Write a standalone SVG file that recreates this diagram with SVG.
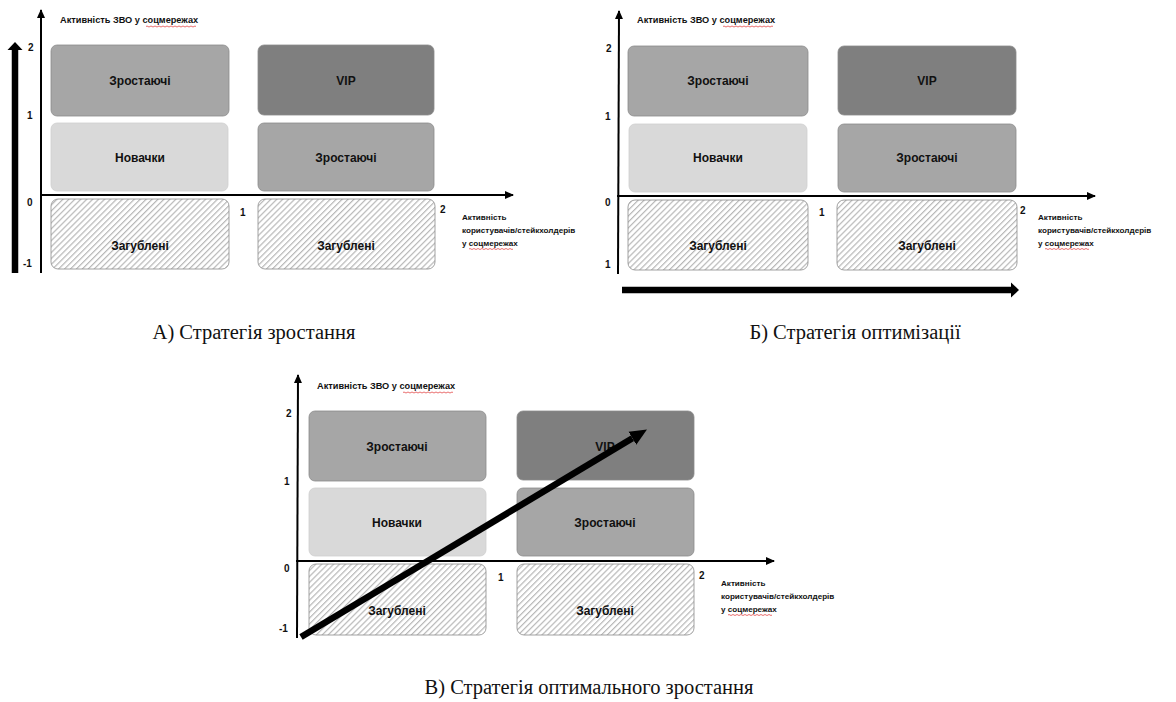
<svg xmlns="http://www.w3.org/2000/svg" width="1176" height="702" viewBox="0 0 1176 702">
<defs>
<style>
.bg{fill:#ffffff}
.box{stroke:#8c8c8c;stroke-width:0.8}
.grow{fill:#a6a6a6}
.vip{fill:#7f7f7f}
.new{fill:#d9d9d9;stroke:#cfcfcf}
.lost{fill:url(#hatch);stroke:#8c8c8c}
.lbl{font-family:"Liberation Sans",Arial,sans-serif;font-weight:bold;font-size:12px;fill:#111;text-anchor:middle}
.ttl{font-family:"Liberation Sans",Arial,sans-serif;font-weight:bold;font-size:9.2px;fill:#111}
.xl{font-family:"Liberation Sans",Arial,sans-serif;font-weight:bold;font-size:8.1px;fill:#111}
.num{font-family:"Liberation Sans",Arial,sans-serif;font-weight:bold;font-size:10px;fill:#111}
.cap{font-family:"Liberation Serif","Times New Roman",serif;font-size:20.5px;fill:#111;text-anchor:middle}
.axis{stroke:#000;stroke-width:2;fill:none}
.thick{stroke:#000;stroke-width:6.5;fill:none}
.squig{stroke:#e03030;stroke-width:0.7;fill:none}
</style>
<pattern id="hatch" patternUnits="userSpaceOnUse" width="4.2" height="4.2" patternTransform="rotate(45)">
<rect width="4.2" height="4.2" fill="#ffffff"/>
<line x1="0.6" y1="0" x2="0.6" y2="4.2" stroke="#b8b8b8" stroke-width="1.2"/>
</pattern>
<marker id="axhead" markerWidth="10" markerHeight="10" refX="8" refY="5" orient="auto" markerUnits="userSpaceOnUse">
<path d="M0,1 L9,5 L0,9 Z" fill="#000"/>
</marker>
<marker id="shorthead" markerWidth="12" markerHeight="18" refX="0" refY="8" orient="auto" markerUnits="userSpaceOnUse">
<path d="M0,0.5 L8,8 L0,15.5 Z" fill="#000"/>
</marker>
<marker id="longhead" markerWidth="20" markerHeight="18" refX="0" refY="8" orient="auto" markerUnits="userSpaceOnUse">
<path d="M0,0.5 L17,8 L0,15.5 Z" fill="#000"/>
</marker>
</defs>
<rect class="bg" x="0" y="0" width="1176" height="702"/>

<!-- Panel A -->
<g id="panelA">
  <g id="A-labels">
    <text class="ttl" x="60" y="23">Активність ЗВО у соцмережах</text>
    <path class="squig" d="M146,26.5 q1,-1 2,0 t2,0 t2,0 t2,0 t2,0 t2,0 t2,0 t2,0 t2,0 t2,0 t2,0 t2,0 t2,0 t2,0 t2,0 t2,0 t2,0 t2,0 t2,0 t2,0 t2,0 t2,0 t2,0 t2,0 t2,0"/>
    <text class="num" x="28" y="51">2</text>
    <text class="num" x="27" y="119">1</text>
    <text class="num" x="27" y="206">0</text>
    <text class="num" x="23" y="267">-1</text>
    <text class="num" x="240" y="216">1</text>
    <text class="num" x="440" y="213">2</text>
    <text class="xl" x="462" y="220">Активність</text>
    <text class="xl" x="462" y="233">користувачів/стейкхолдерів</text>
    <text class="xl" x="462" y="246">у соцмережах</text>
    <path class="squig" d="M469,249 q1,-1 2,0 t2,0 t2,0 t2,0 t2,0 t2,0 t2,0 t2,0 t2,0 t2,0 t2,0 t2,0 t2,0 t2,0 t2,0 t2,0 t2,0 t2,0 t2,0 t2,0 t2,0 t2,0"/>
  </g>
  <g id="A-grow1"><rect class="box grow" x="51" y="45" width="178" height="71" rx="6"/><text class="lbl" x="140" y="84.5">Зростаючі</text></g>
  <g id="A-vip"><rect class="box vip" x="258" y="45" width="176" height="70" rx="6"/><text class="lbl" x="346" y="84.5">VIP</text></g>
  <g id="A-new"><rect class="box new" x="51" y="123" width="177" height="68" rx="6"/><text class="lbl" x="140" y="161.5">Новачки</text></g>
  <g id="A-grow2"><rect class="box grow" x="258" y="123" width="176" height="68" rx="6"/><text class="lbl" x="346" y="161.5">Зростаючі</text></g>
  <g id="A-lost1"><rect class="box lost" x="51" y="199" width="178" height="70" rx="7"/><text class="lbl" x="140" y="249.5">Загублені</text></g>
  <g id="A-lost2"><rect class="box lost" x="258" y="199" width="177" height="70" rx="7"/><text class="lbl" x="346" y="249.5">Загублені</text></g>
  <text class="cap" x="254" y="339">А) Стратегія зростання</text>
</g>

<!-- Panel B -->
<g id="panelB">
  <g id="B-labels">
    <text class="ttl" x="637" y="23">Активність ЗВО у соцмережах</text>
    <path class="squig" d="M723,26.5 q1,-1 2,0 t2,0 t2,0 t2,0 t2,0 t2,0 t2,0 t2,0 t2,0 t2,0 t2,0 t2,0 t2,0 t2,0 t2,0 t2,0 t2,0 t2,0 t2,0 t2,0 t2,0 t2,0 t2,0 t2,0 t2,0"/>
    <text class="num" x="606" y="52">2</text>
    <text class="num" x="605" y="120">1</text>
    <text class="num" x="605" y="206">0</text>
    <text class="num" x="605" y="268">1</text>
    <text class="num" x="819" y="216">1</text>
    <text class="num" x="1020" y="214">2</text>
    <text class="xl" x="1038" y="220">Активність</text>
    <text class="xl" x="1038" y="233">користувачів/стейкхолдерів</text>
    <text class="xl" x="1038" y="246">у соцмережах</text>
    <path class="squig" d="M1045,249 q1,-1 2,0 t2,0 t2,0 t2,0 t2,0 t2,0 t2,0 t2,0 t2,0 t2,0 t2,0 t2,0 t2,0 t2,0 t2,0 t2,0 t2,0 t2,0 t2,0 t2,0 t2,0 t2,0"/>
  </g>
  <g id="B-grow1"><rect class="box grow" x="628" y="46" width="180" height="70" rx="6"/><text class="lbl" x="718" y="85">Зростаючі</text></g>
  <g id="B-vip"><rect class="box vip" x="838" y="46" width="178" height="69" rx="6"/><text class="lbl" x="927" y="85">VIP</text></g>
  <g id="B-new"><rect class="box new" x="629" y="124" width="178" height="68" rx="6"/><text class="lbl" x="718" y="162">Новачки</text></g>
  <g id="B-grow2"><rect class="box grow" x="838" y="124" width="178" height="68" rx="6"/><text class="lbl" x="927" y="162">Зростаючі</text></g>
  <g id="B-lost1"><rect class="box lost" x="628" y="200" width="180" height="70" rx="7"/><text class="lbl" x="718" y="250">Загублені</text></g>
  <g id="B-lost2"><rect class="box lost" x="837" y="200" width="180" height="70" rx="7"/><text class="lbl" x="927" y="250">Загублені</text></g>
  <text class="cap" x="855" y="339">Б) Стратегія оптимізації</text>
</g>

<!-- Panel C -->
<g id="panelC">
  <g id="C-labels">
    <text class="ttl" x="317" y="389">Активність ЗВО у соцмережах</text>
    <path class="squig" d="M403,392.5 q1,-1 2,0 t2,0 t2,0 t2,0 t2,0 t2,0 t2,0 t2,0 t2,0 t2,0 t2,0 t2,0 t2,0 t2,0 t2,0 t2,0 t2,0 t2,0 t2,0 t2,0 t2,0 t2,0 t2,0 t2,0 t2,0"/>
    <text class="num" x="286" y="417">2</text>
    <text class="num" x="284" y="485">1</text>
    <text class="num" x="284" y="572">0</text>
    <text class="num" x="279" y="632">-1</text>
    <text class="num" x="498" y="581">1</text>
    <text class="num" x="699" y="579">2</text>
    <text class="xl" x="721" y="586">Активність</text>
    <text class="xl" x="721" y="599">користувачів/стейкхолдерів</text>
    <text class="xl" x="721" y="612">у соцмережах</text>
    <path class="squig" d="M728,615 q1,-1 2,0 t2,0 t2,0 t2,0 t2,0 t2,0 t2,0 t2,0 t2,0 t2,0 t2,0 t2,0 t2,0 t2,0 t2,0 t2,0 t2,0 t2,0 t2,0 t2,0 t2,0 t2,0"/>
  </g>
  <g id="C-grow1"><rect class="box grow" x="309" y="411" width="177" height="70" rx="6"/><text class="lbl" x="397" y="450.5">Зростаючі</text></g>
  <g id="C-vip"><rect class="box vip" x="517" y="411" width="177" height="69" rx="6"/><text class="lbl" x="605" y="450.5">VIP</text></g>
  <g id="C-new"><rect class="box new" x="309" y="488" width="177" height="68" rx="6"/><text class="lbl" x="397" y="527">Новачки</text></g>
  <g id="C-grow2"><rect class="box grow" x="517" y="488" width="177" height="68" rx="6"/><text class="lbl" x="605" y="527">Зростаючі</text></g>
  <g id="C-lost1"><rect class="box lost" x="309" y="564" width="177" height="71" rx="7"/><text class="lbl" x="397" y="614.5">Загублені</text></g>
  <g id="C-lost2"><rect class="box lost" x="517" y="564" width="177" height="71" rx="7"/><text class="lbl" x="605" y="614.5">Загублені</text></g>
  <text class="cap" x="589" y="694">В) Стратегія оптимального зростання</text>
</g>

<!-- Connectors: axes and strategy arrows -->
<g id="connectors">
  <line class="axis" x1="41" y1="273" x2="41" y2="10" marker-end="url(#axhead)"/>
  <line class="axis" x1="40" y1="195" x2="513" y2="195" marker-end="url(#axhead)"/>
  <line class="thick" x1="15" y1="273" x2="15" y2="50" marker-end="url(#shorthead)"/>

  <line class="axis" x1="618" y1="274" x2="619" y2="11" marker-end="url(#axhead)"/>
  <line class="axis" x1="617" y1="196" x2="1095" y2="196" marker-end="url(#axhead)"/>
  <line class="thick" x1="622" y1="290" x2="1011" y2="290" marker-end="url(#shorthead)"/>

  <line class="axis" x1="297" y1="638" x2="298" y2="375" marker-end="url(#axhead)"/>
  <line class="axis" x1="296" y1="561" x2="774" y2="561" marker-end="url(#axhead)"/>
  <line class="thick" x1="301" y1="637" x2="632.4" y2="438.2" marker-end="url(#longhead)"/>
</g>
</svg>
